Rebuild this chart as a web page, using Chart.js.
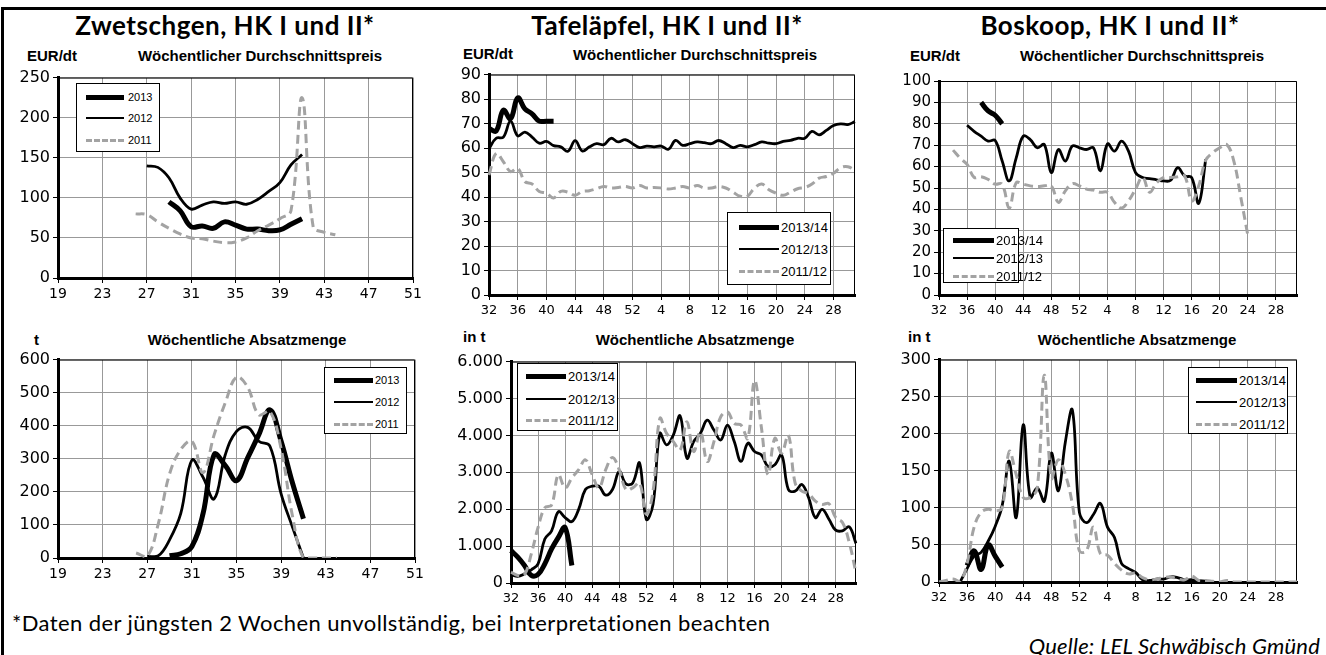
<!DOCTYPE html>
<html>
<head>
<meta charset="utf-8">
<script src="https://cdn.jsdelivr.net/npm/chart.js@4.4.0/dist/chart.umd.min.js"></script>
<style>
  body { margin: 0; width: 1326px; height: 655px; position: relative; overflow: hidden; background: #fff; font-family: "Liberation Sans", Arial, sans-serif; }
  .rahmen { position: absolute; left: 1px; top: 7px; width: 1400px; height: 700px; border-left: 3px solid #000; border-top: 3px solid #000; }
  .t { position: absolute; white-space: nowrap; line-height: 1; transform: translate(-50%, -50%); }
  .titel { font: bold 26px Lato, sans-serif; letter-spacing: 0.5px; }
  .sub { font: bold 15px "Liberation Sans", Arial, sans-serif; }
  .einheit { font: bold 15px "Liberation Sans", Arial, sans-serif; transform: translate(0, -50%); }
  .fuss { position: absolute; white-space: nowrap; font: 22px Lato, sans-serif; line-height: 1; letter-spacing: 0.4px; }
  canvas { position: absolute; }
  .leg { position: absolute; border: 1px solid #000; background: #fff; box-sizing: border-box; }
  .leg .ln { position: absolute; height: 0; }
  .leg .tx { position: absolute; line-height: 1; transform: translate(0, -50%); white-space: nowrap; }
</style>
</head>
<body>
<div class="rahmen"></div>

<div class="t titel" style="left:225px;top:25px">Zwetschgen, HK I und II*</div>
<div class="t titel" style="left:667px;top:25px">Tafeläpfel, HK I und II*</div>
<div class="t titel" style="left:1110px;top:25px">Boskoop, HK I und II*</div>

<div class="t sub" style="left:260px;top:55px">Wöchentlicher Durchschnittspreis</div>
<div class="t sub" style="left:695px;top:54px">Wöchentlicher Durchschnittspreis</div>
<div class="t sub" style="left:1142px;top:55px">Wöchentlicher Durchschnittspreis</div>
<div class="t sub" style="left:247px;top:339px">Wöchentliche Absatzmenge</div>
<div class="t sub" style="left:695px;top:339px">Wöchentliche Absatzmenge</div>
<div class="t sub" style="left:1137px;top:339px">Wöchentliche Absatzmenge</div>

<div class="t einheit" style="left:27px;top:55px">EUR/dt</div>
<div class="t einheit" style="left:463px;top:53px">EUR/dt</div>
<div class="t einheit" style="left:910px;top:55px">EUR/dt</div>
<div class="t einheit" style="left:34px;top:339px">t</div>
<div class="t einheit" style="left:463px;top:336px">in t</div>
<div class="t einheit" style="left:908px;top:336px">in t</div>

<canvas id="c1"></canvas>
<canvas id="c2"></canvas>
<canvas id="c3"></canvas>
<canvas id="c4"></canvas>
<canvas id="c5"></canvas>
<canvas id="c6"></canvas>

<div class="fuss" style="left:12px;top:612px">*Daten der jüngsten 2 Wochen unvollständig, bei Interpretationen beachten</div>
<div class="fuss" style="right:6px;top:635px;font-style:italic;letter-spacing:0.2px">Quelle: LEL Schwäbisch Gmünd</div>

<script>
// Kalenderwochen
const wochenSommer = [19, 20, 21, 22, 23, 24, 25, 26, 27, 28, 29, 30, 31, 32, 33, 34, 35, 36, 37, 38, 39, 40, 41, 42, 43, 44, 45, 46, 47, 48, 49, 50, 51];
const wochenSaison = [32, 33, 34, 35, 36, 37, 38, 39, 40, 41, 42, 43, 44, 45, 46, 47, 48, 49, 50, 51, 52,
  1, 2, 3, 4, 5, 6, 7, 8, 9, 10, 11, 12, 13, 14, 15, 16, 17, 18, 19, 20, 21, 22, 23, 24, 25, 26, 27, 28, 29, 30, 31];

// Zwetschgen Preis (EUR/dt), Startwoche jeweils angegeben
const zwPreis2013 = [95, 84, 64, 65, 62, 70, 66, 61, 61, 59, 60, 67, 74];               // ab KW 29
const zwPreis2012 = [140, 138, 125, 100, 86, 91, 95, 93, 95, 92, 98, 108, 119, 141, 154]; // ab KW 27
const zwPreis2011 = [80, 79, 70, 62, 55, 50, 49, 46, 44, 45, 50, 59, 66, 74, 84, 225, 64, 57, 54]; // ab KW 26

// Zwetschgen Menge (t)
const zwMenge2013 = [7, 13, 35, 134, 313, 279, 234, 303, 373, 448, 353, 229, 119];           // ab KW 29
const zwMenge2012 = [5, 7, 55, 134, 296, 244, 179, 313, 383, 395, 353, 338, 194, 95, 0];     // ab KW 27
const zwMenge2011 = [15, 5, 105, 254, 328, 353, 258, 373, 470, 547, 517, 433, 443, 330, 130, 0, 0, 0, 0]; // ab KW 26

// Tafeläpfel Preis (EUR/dt), ab KW 32
const tpPreis2013 = [68, 67, 75.5, 72, 80.5, 76, 74, 71, 71, 71];
const tpPreis2012 = [59.8, 64, 64.5, 71, 65, 66.5, 64.5, 62, 62.7, 61, 60.5, 58.7, 63, 58.8, 60.5, 61.8, 61.4, 64, 62.5, 63.4,
  61.8, 60.2, 60.8, 60.5, 60.8, 59.5, 63.1, 61.1, 61.8, 62.5, 62.2, 61.8, 63.1, 61.8, 60.2, 61.1, 60.5, 61.4, 62.5, 62,
  61.8, 62.7, 63.1, 64, 64, 66.8, 65.4, 67.2, 69.2, 69.9, 69.6, 70.8];
const tpPreis2011 = [49, 57.8, 54.4, 50.4, 51.7, 46.3, 45.3, 42.3, 41.6, 39.6, 42.3, 42, 40.7, 42.3, 42.6, 43.4, 44.3, 43.7, 43.9, 44.3,
  43.7, 44.7, 43.7, 43.9, 43.7, 43.3, 43.7, 44.3, 43.7, 44.7, 43.7, 43.7, 44.3, 43.7, 42, 40.3, 40.3, 43.7, 45.3, 43,
  41.6, 40.7, 42, 43.4, 43.9, 45.3, 47.7, 48.4, 49.7, 52, 52.4, 51];

// Tafeläpfel Menge (t), ab KW 32
const tpMenge2013 = [877, 700, 475, 206, 233, 520, 922, 1235, 1504, 475];
const tpMenge2012 = [233, 180, 250, 358, 520, 1190, 1414, 1934, 1773, 1665, 1996, 2534, 2623, 2623, 2381, 2534, 3026, 2686, 2713, 3250,
  1728, 2130, 4055, 3742, 4011, 4530, 3384, 3832, 4055, 4414, 4145, 3876, 4280, 3832, 3295, 3787, 3563, 3474, 3160, 3205,
  3474, 2534, 2489, 2668, 2310, 1773, 1996, 1728, 1432, 1414, 1522, 1074];
const tpMenge2011 = [295, 206, 233, 788, 1504, 2041, 2113, 2936, 2578, 2847, 3071, 3339, 2936, 2578, 3071, 3402, 3071, 2534, 2578, 2713,
  1862, 2489, 4458, 4055, 3832, 3608, 4369, 3563, 4100, 3295, 3832, 4503, 4637, 4324, 4280, 3921, 5488, 4235, 2936, 3921,
  3518, 4011, 2713, 2489, 2417, 2220, 2131, 2149, 1773, 1638, 1101, 268];

// Boskoop Preis (EUR/dt)
const bkPreis2013 = [90, 86, 84, 80]; // ab KW 38
const bkPreis2012 = [79.3, 76.5, 74.2, 71.9, 72.2, 62.6, 53.3, 64.1, 74.2, 72.6, 68.8, 70.3, 57.2, 68, 62.6, 69.6, 68.8, 68, 68.8, 58,
  70.6, 67.2, 71.9, 67.2, 57.2, 54.9, 54.4, 53.8, 53.3, 53.6, 59.5, 55.6, 54.9, 42.8, 63.4]; // ab KW 36
const bkPreis2011 = [67.7, 64, 61, 55, 55.3, 54, 51.8, 51.8, 40.6, 52.5, 51.8, 51, 50.7, 51, 51, 43.3, 48.7, 52, 51, 49.5,
  49, 48, 48, 43.3, 40.6, 44, 49.5, 55, 48, 52.5, 54.9, 54.9, 55.2, 55.6, 44, 51, 63, 66.5, 68.8, 70.3,
  62.6, 45.6, 27.8]; // ab KW 34

// Boskoop Menge (t)
const bkMenge2013 = [22, 42, 17, 50, 35, 20]; // ab KW 36
const bkMenge2012 = [0, 18, 35, 40, 55, 75, 103, 163, 87, 212, 114, 127, 109, 174, 123, 189, 232, 94, 80, 91,
  106, 74, 60, 25, 18, 13, 3, 2, 4, 4, 7, 6, 3, 3, 2, 1, 0]; // ab KW 35
const bkMenge2011 = [0, 2, 4, 0, 25, 74, 94, 98, 96, 100, 176, 145, 114, 114, 127, 279, 140, 165, 145, 105,
  42, 42, 74, 38, 36, 25, 16, 11, 12, 6, 3, 4, 6, 7, 4, 3, 8, 2, 2, 1, 0, 2, 0, 0, 0, 0, 0, 0, 0, 0, 0, 0]; // ab KW 32

// Werte an die Position der Startwoche setzen
function abWoche(labels, start, werte) {
  const out = labels.map(() => null);
  const i0 = labels.indexOf(start);
  werte.forEach((v, i) => { out[i0 + i] = v; });
  return out;
}

function tausender(v) {
  return String(v).replace(/\B(?=(\d{3})+(?!\d))/g, '.');
}

const dick = { borderColor: '#000', borderWidth: 5 };
const mittel = { borderColor: '#000', borderWidth: 2.8 };
const gestrichelt = { borderColor: '#a3a3a3', borderWidth: 3, borderDash: [9, 5] };

Chart.defaults.font.family = '"DejaVu Sans", Verdana, sans-serif';
Chart.defaults.font.size = 15;
Chart.defaults.color = '#000';

const rahmenPlugin = {
  id: 'rahmen',
  beforeDatasetsDraw(chart) {
    const { ctx, chartArea: a } = chart;
    ctx.save();
    ctx.strokeStyle = '#000';
    ctx.lineWidth = 1;
    ctx.beginPath();
    ctx.moveTo(a.left, a.top + 0.5);
    ctx.lineTo(a.right - 0.5, a.top + 0.5);
    ctx.lineTo(a.right - 0.5, a.bottom);
    ctx.stroke();
    ctx.restore();
  }
};

function zeichne(id, box, labels, yMax, yStep, reihen, yFormat) {
  const yw = 56, pt = 10, pr = 14, xh = 26;
  const cv = document.getElementById(id);
  cv.width = box.R - box.L + yw + pr;
  cv.height = box.B - box.T + pt + xh;
  cv.style.left = (box.L - yw) + 'px';
  cv.style.top = (box.T - pt) + 'px';

  const datasets = reihen.map(r => Object.assign({
    data: r.data, fill: false, pointRadius: 0, tension: 0.4, borderCapStyle: 'butt'
  }, r.stil));

  new Chart(cv, {
    type: 'line',
    data: { labels: labels, datasets: datasets },
    options: {
      responsive: false,
      animation: false,
      layout: { padding: { top: pt, right: pr, left: 0, bottom: 0 } },
      plugins: { legend: { display: false }, tooltip: { enabled: false } },
      scales: {
        x: {
          type: 'category',
          offset: false,
          grid: {
            color: c => c.index % 4 === 0 ? '#999' : 'rgba(0,0,0,0)',
            tickColor: c => c.index % 4 === 0 ? '#000' : 'rgba(0,0,0,0)',
            tickLength: 5,
            lineWidth: 1
          },
          border: { color: '#000', width: 3 },
          ticks: {
            autoSkip: false, maxRotation: 0, padding: 3,
            font: { size: box.xFont || 14 },
            callback: (v, i) => i % 4 === 0 ? String(labels[i]) : ''
          },
          afterFit: s => { s.height = xh; }
        },
        y: {
          min: 0, max: yMax,
          grid: { color: '#999', tickColor: '#000', tickLength: 5, lineWidth: 1 },
          border: { color: '#000', width: 3 },
          ticks: { stepSize: yStep, autoSkip: false, padding: 3, font: { size: box.yFont || 16 }, callback: yFormat || (v => v) },
          afterFit: s => { s.width = yw; }
        }
      }
    },
    plugins: [rahmenPlugin]
  });
}

zeichne('c1', { L: 58, T: 75, R: 413, B: 278 }, wochenSommer, 250, 50, [
  { data: abWoche(wochenSommer, 26, zwPreis2011), stil: gestrichelt },
  { data: abWoche(wochenSommer, 27, zwPreis2012), stil: mittel },
  { data: abWoche(wochenSommer, 29, zwPreis2013), stil: dick }
]);

zeichne('c2', { L: 489, T: 72, R: 855, B: 295, xFont: 13 }, wochenSaison, 90, 10, [
  { data: abWoche(wochenSaison, 32, tpPreis2011), stil: gestrichelt },
  { data: abWoche(wochenSaison, 32, tpPreis2012), stil: mittel },
  { data: abWoche(wochenSaison, 32, tpPreis2013), stil: dick }
]);

zeichne('c3', { L: 939, T: 79, R: 1297, B: 295, xFont: 13, yFont: 15 }, wochenSaison, 100, 10, [
  { data: abWoche(wochenSaison, 34, bkPreis2011), stil: gestrichelt },
  { data: abWoche(wochenSaison, 36, bkPreis2012), stil: mittel },
  { data: abWoche(wochenSaison, 38, bkPreis2013), stil: dick }
]);

zeichne('c4', { L: 58, T: 357, R: 415, B: 558 }, wochenSommer, 600, 100, [
  { data: abWoche(wochenSommer, 26, zwMenge2011), stil: gestrichelt },
  { data: abWoche(wochenSommer, 27, zwMenge2012), stil: mittel },
  { data: abWoche(wochenSommer, 29, zwMenge2013), stil: dick }
]);

zeichne('c5', { L: 511, T: 359, R: 856, B: 583, xFont: 13 }, wochenSaison, 6000, 1000, [
  { data: abWoche(wochenSaison, 32, tpMenge2011), stil: gestrichelt },
  { data: abWoche(wochenSaison, 32, tpMenge2012), stil: mittel },
  { data: abWoche(wochenSaison, 32, tpMenge2013), stil: dick }
], tausender);

zeichne('c6', { L: 939, T: 357, R: 1297, B: 582, xFont: 13 }, wochenSaison, 300, 50, [
  { data: abWoche(wochenSaison, 32, bkMenge2011), stil: gestrichelt },
  { data: abWoche(wochenSaison, 35, bkMenge2012), stil: mittel },
  { data: abWoche(wochenSaison, 36, bkMenge2013), stil: dick }
]);

// Legenden als HTML-Kästen
function legende(x, y, w, h, zeilen, l0, l1, tx, fs, namen) {
  const box = document.createElement('div');
  box.className = 'leg';
  Object.assign(box.style, { left: x + 'px', top: y + 'px', width: w + 'px', height: h + 'px', fontSize: fs + 'px' });
  const stile = [
    'border-top:5px solid #000',
    'border-top:2.8px solid #000',
    'border-top:3px dashed #a3a3a3'
  ];
  const dicken = [5, 2.8, 3];
  namen.forEach((n, i) => {
    const ln = document.createElement('div');
    ln.className = 'ln';
    ln.style.cssText = stile[i] + ';left:' + l0 + 'px;width:' + (l1 - l0) + 'px;top:' + (zeilen[i] - dicken[i] / 2) + 'px';
    box.appendChild(ln);
    const t = document.createElement('div');
    t.className = 'tx';
    t.style.left = tx + 'px';
    t.style.top = zeilen[i] + 'px';
    t.textContent = n;
    box.appendChild(t);
  });
  document.body.appendChild(box);
}

const jahre = ['2013', '2012', '2011'];
const saisons = ['2013/14', '2012/13', '2011/12'];
legende(76, 83, 84, 69, [13, 34, 56], 9, 47, 51, 11, jahre);
legende(727, 212, 104, 73, [14, 36, 58], 11, 51, 53, 13, saisons);
legende(943, 228, 76, 55, [11, 29, 47], 9, 50, 52, 13, saisons);
legende(324, 367, 83, 67, [12, 34, 56], 9, 48, 50, 11, jahre);
legende(517, 363, 101, 68, [12, 35, 56], 8, 48, 50, 13, saisons);
legende(1188, 367, 100, 67, [12, 34, 56], 7, 48, 50, 13, saisons);
</script>
</body>
</html>
